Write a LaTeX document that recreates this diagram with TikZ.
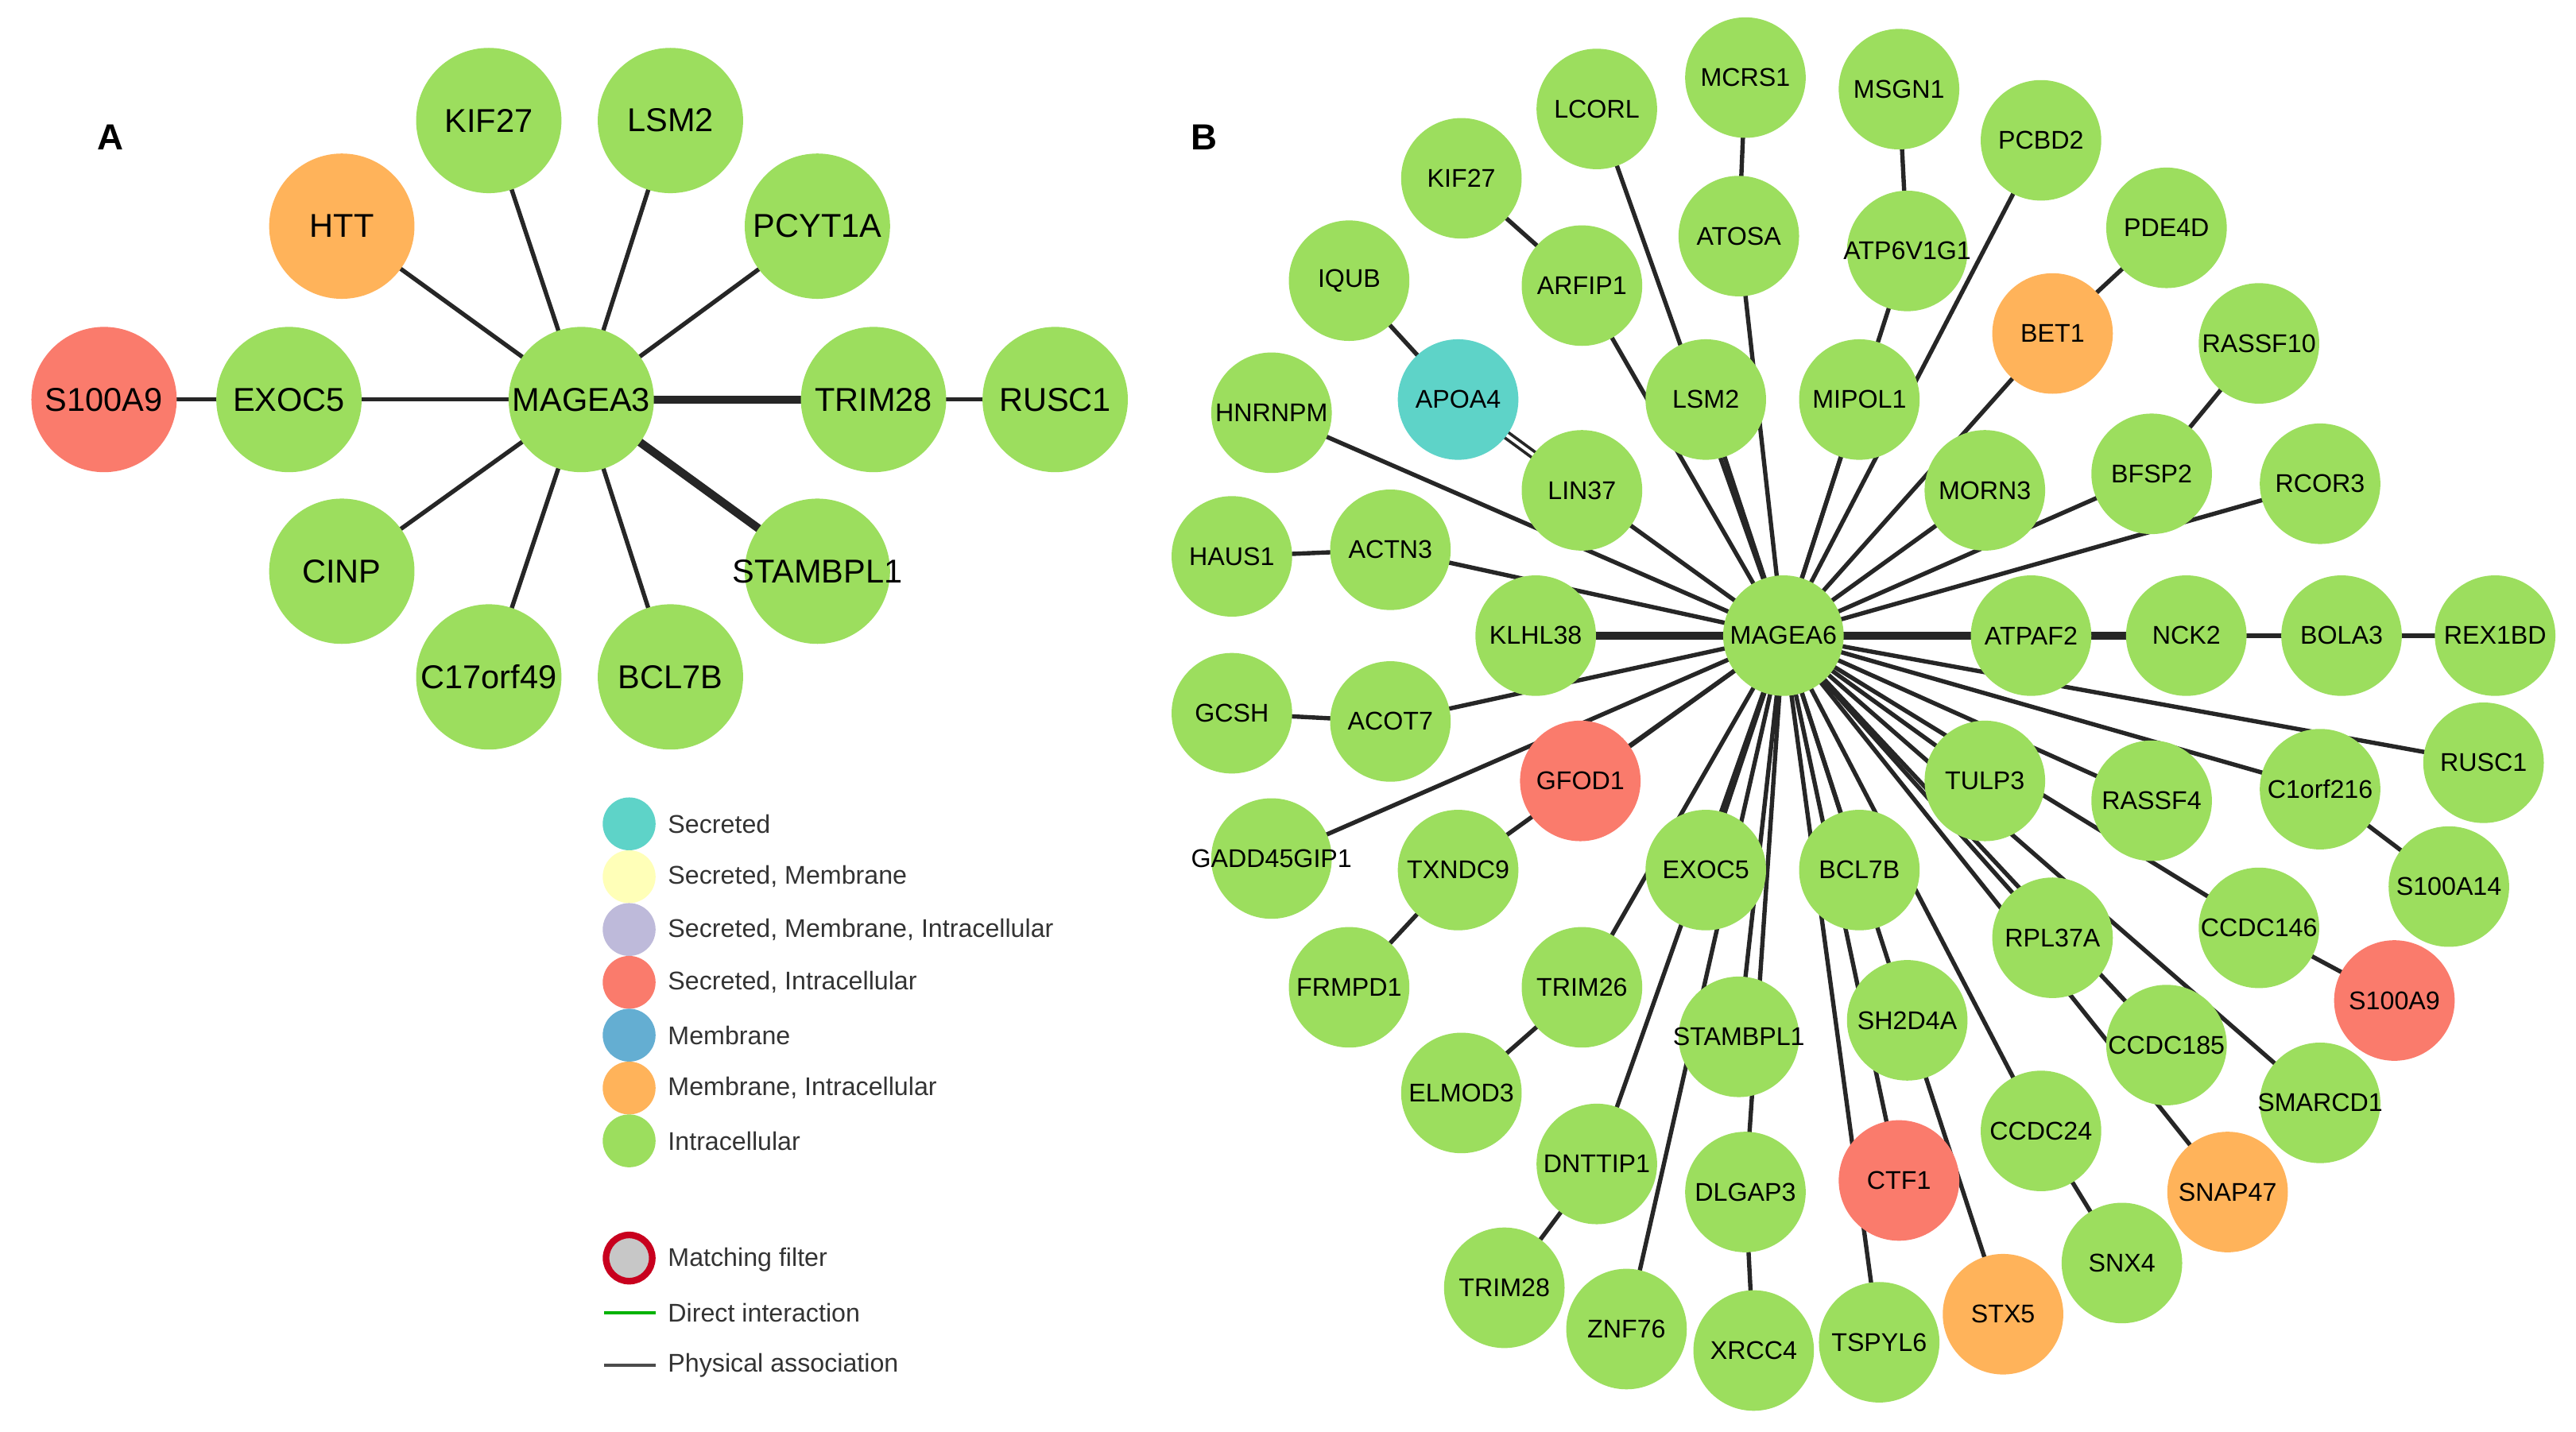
\documentclass[tikz,border=0pt]{standalone}
\usepackage{fontspec}
\setmainfont{Liberation Sans}
\begin{document}
\definecolor{gr}{HTML}{9CDE5E}
\definecolor{orr}{HTML}{FFB35A}
\definecolor{rd}{HTML}{FA7B6C}
\definecolor{tl}{HTML}{5ED3C8}
\definecolor{bl}{HTML}{64AED2}
\definecolor{yl}{HTML}{FFFFB8}
\definecolor{lv}{HTML}{BEBADA}
\newcommand{\zb}[1]{\makebox[0pt]{#1}}
\begin{tikzpicture}[x=1pt,y=-1pt,
  na/.style={circle,minimum size=88pt,inner sep=0pt,fill=gr,font=\fontsize{20}{20}\selectfont},
  nb/.style={circle,minimum size=73pt,inner sep=0pt,fill=gr,font=\fontsize{15.5}{15.5}\selectfont},
  ed/.style={line width=2.6pt,black!85},
  te/.style={line width=5pt,black!85},
  lg/.style={circle,minimum size=32pt,inner sep=0pt},
  lt/.style={anchor=west,font=\fontsize{15.5}{16}\selectfont,text=black!80}]
\useasboundingbox (0,0) rectangle (1560,867);
\fill[white] (0,0) rectangle (1560,867);
% Panel A
\node[font=\bfseries\fontsize{22}{22}\selectfont] (la) at (67,83) {A};
\node[font=\bfseries\fontsize{22}{22}\selectfont] (lb) at (729,83) {B};
\coordinate (pA) at (352,242);
\foreach \n/\x/\y in {KIF27/296/73,LSM2/406/73,PCYT1A/495/137,CINP/207/346,C17orf49/296/410,BCL7B/406/410,HTT/207/137}
  {\draw[ed] (pA) -- (\x,\y) coordinate (A\n);}
\draw[ed] (63,242) coordinate (AS) -- (175,242) coordinate (AE) -- (pA);
\draw[te] (pA) -- (529,242) coordinate (AT);
\draw[ed] (AT) -- (639,242) coordinate (AR);
\draw[te] (pA) -- (495,346) coordinate (AST);
\node[na] (a1) at (AKIF27) {KIF27};
\node[na] (a2) at (ALSM2) {LSM2};
\node[na,fill=orr] (a3) at (AHTT) {HTT};
\node[na] (a4) at (APCYT1A) {\zb{PCYT1A}};
\node[na,fill=rd] (a5) at (AS) {\zb{S100A9}};
\node[na] (a6) at (AE) {EXOC5};
\node[na] (a7) at (AT) {\zb{TRIM28}};
\node[na] (a8) at (AR) {RUSC1};
\node[na] (a9) at (ACINP) {CINP};
\node[na] (a10) at (AST) {\zb{STAMBPL1}};
\node[na] (a11) at (AC17orf49) {\zb{C17orf49}};
\node[na] (a12) at (ABCL7B) {BCL7B};
\node[na] (a0) at (pA) {\zb{MAGEA3}};
% Panel B coordinates
\foreach \n/\x/\y in {APOA4/883/242,IQUB/817/170,KIF27/885/108,ARFIP1/958/173,LCORL/967/66,MCRS1/1057/47,ATOSA/1053/143,MSGN1/1150/54,ATP6V1G1/1155/152,PCBD2/1236/85,PDE4D/1312/138,BET1/1243/202,RASSF10/1368/208,LSM2/1033/242,MIPOL1/1126/242,LIN37/958/297,HNRNPM/770/250,MORN3/1202/297,BFSP2/1303/287,RCOR3/1405/293,HAUS1/746/337,ACTN3/842/333,KLHL38/930/385,ATPAF2/1230/385,NCK2/1324/385,BOLA3/1418/385,REX1BD/1511/385,GCSH/746/432,ACOT7/842/437,GFOD1/957/473,TULP3/1202/473,RASSF4/1303/485,C1orf216/1405/478,RUSC1/1504/462,GADD45GIP1/770/520,TXNDC9/883/527,EXOC5/1033/527,BCL7B/1126/527,RPL37A/1243/568,CCDC146/1368/562,S100A14/1483/537,S100A9/1450/606,FRMPD1/817/598,TRIM26/958/598,STAMBPL1/1053/628,SH2D4A/1155/618,CCDC185/1312/633,SMARCD1/1405/668,ELMOD3/885/662,DNTTIP1/967/705,DLGAP3/1057/722,CTF1/1150/715,CCDC24/1236/685,SNAP47/1349/722,SNX4/1285/765,TRIM28/911/780,ZNF76/985/805,XRCC4/1062/818,TSPYL6/1138/813,STX5/1213/796}
  {\coordinate (B\n) at (\x,\y);}
\coordinate (BM) at (1080,385);
\foreach \n in {LIN37,ARFIP1,LCORL,ATOSA,ATP6V1G1,PCBD2,BET1,BFSP2,RCOR3,LSM2,MIPOL1,HNRNPM,MORN3,ACTN3,ACOT7,GFOD1,TULP3,RASSF4,C1orf216,RUSC1,GADD45GIP1,TXNDC9,EXOC5,BCL7B,RPL37A,CCDC146,CCDC185,SMARCD1,TRIM26,STAMBPL1,SH2D4A,DNTTIP1,DLGAP3,CTF1,CCDC24,SNAP47,ZNF76,TSPYL6}
  {\draw[ed] (BM) -- (B\n);}
\draw[te] (BM) -- (BKLHL38);
\draw[te] (BM) -- (BATPAF2);
\draw[te] (BATPAF2) -- (BNCK2);
\draw[ed] (BNCK2) -- (BBOLA3) -- (BREX1BD);
\draw[ed] (BIQUB) -- (BAPOA4);
\draw[ed,double distance=2pt,line width=1.8pt] (BAPOA4) -- (BLIN37);
\draw[ed] (BKIF27) -- (BARFIP1);
\draw[ed] (BMCRS1) -- (BATOSA);
\draw[ed] (BMSGN1) -- (BATP6V1G1);
\draw[ed] (BPDE4D) -- (BBET1);
\draw[ed] (BRASSF10) -- (BBFSP2);
\draw[ed] (BHAUS1) -- (BACTN3);
\draw[ed] (BGCSH) -- (BACOT7);
\draw[ed] (BC1orf216) -- (BS100A14);
\draw[ed] (BCCDC146) -- (BS100A9);
\draw[ed] (BTXNDC9) -- (BFRMPD1);
\draw[ed] (BTRIM26) -- (BELMOD3);
\draw[ed] (BDNTTIP1) -- (BTRIM28);
\draw[ed] (BDLGAP3) -- (BXRCC4);
\draw[ed] (BSH2D4A) -- (BSTX5);
\draw[ed] (BCCDC24) -- (BSNX4);
\foreach \n in {IQUB,KIF27,ARFIP1,LCORL,MCRS1,ATOSA,MSGN1,ATP6V1G1,PCBD2,PDE4D,RASSF10,LSM2,MIPOL1,LIN37,HNRNPM,MORN3,BFSP2,RCOR3,HAUS1,ACTN3,KLHL38,ATPAF2,NCK2,BOLA3,REX1BD,GCSH,ACOT7,TULP3,RASSF4,C1orf216,RUSC1,GADD45GIP1,TXNDC9,EXOC5,BCL7B,RPL37A,CCDC146,S100A14,FRMPD1,TRIM26,STAMBPL1,SH2D4A,CCDC185,SMARCD1,ELMOD3,DNTTIP1,DLGAP3,CCDC24,SNX4,TRIM28,ZNF76,XRCC4,TSPYL6}
  {\node[nb] (n\n) at (B\n) {\zb{\n}};}
\foreach \n in {GFOD1,S100A9,CTF1} {\node[nb,fill=rd] (n\n) at (B\n) {\zb{\n}};}
\foreach \n in {BET1,SNAP47,STX5} {\node[nb,fill=orr] (n\n) at (B\n) {\zb{\n}};}
\node[nb,fill=tl] (nAPOA4) at (BAPOA4) {\zb{APOA4}};
\node[nb] (nM) at (BM) {\zb{MAGEA6}};
% legend
\node[lg,fill=tl] (l1) at (381,499) {}; \node[lt] (t1) at (401,499) {Secreted};
\node[lg,fill=yl] (l2) at (381,531) {}; \node[lt] (t2) at (401,531) {Secreted, Membrane};
\node[lg,fill=lv] (l3) at (381,563) {}; \node[lt] (t3) at (401,563) {Secreted, Membrane, Intracellular};
\node[lg,fill=rd] (l4) at (381,595) {}; \node[lt] (t4) at (401,595) {Secreted, Intracellular};
\node[lg,fill=bl] (l5) at (381,627) {}; \node[lt] (t5) at (401,627) {Membrane};
\node[lg,fill=orr] (l6) at (381,659) {}; \node[lt] (t6) at (401,659) {Membrane, Intracellular};
\node[lg,fill=gr] (l7) at (381,691) {}; \node[lt] (t7) at (401,691) {Intracellular};
\node[circle,minimum size=28pt,inner sep=0pt,fill=black!22,draw={rgb,255:red,200;green,0;blue,30},line width=4pt] (l8) at (381,762) {};
\node[lt] (t8) at (401,763) {Matching filter};
\coordinate (g1) at (366,795); \coordinate (g2) at (397,795);
\draw[line width=1.8pt,green!70!black] (g1) -- (g2);
\node[lt] (t9) at (401,795) {Direct interaction};
\coordinate (h1) at (366,827); \coordinate (h2) at (397,827);
\draw[line width=1.8pt,black!70] (h1) -- (h2);
\node[lt] (t10) at (401,827) {Physical association};
\end{tikzpicture}
\end{document}
